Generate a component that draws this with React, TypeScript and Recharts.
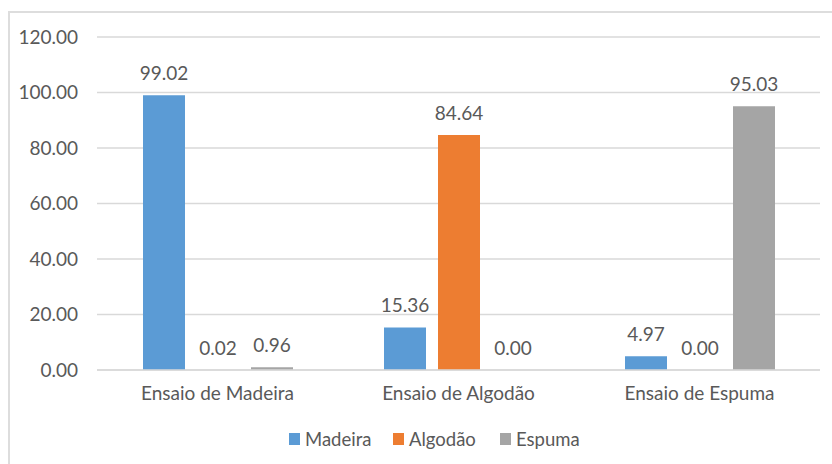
import React from "react";
import { BarChart, Bar, XAxis, YAxis, CartesianGrid, Legend, LabelList } from "recharts";

const categories = ["Ensaio de Madeira", "Ensaio de Algodão", "Ensaio de Espuma"];
const madeira = [99.02, 15.36, 4.97];
const algodao = [0.02, 84.64, 0.0];
const espuma = [0.96, 0.0, 95.03];
const yTicks = [0, 20, 40, 60, 80, 100, 120];

const series = [
  { key: "madeira", name: "Madeira", color: "#5B9BD5" },
  { key: "algodao", name: "Algodão", color: "#ED7D31" },
  { key: "espuma", name: "Espuma", color: "#A5A5A5" },
];

const data = categories.map((c, i) => ({
  category: c,
  madeira: madeira[i],
  algodao: algodao[i],
  espuma: espuma[i],
}));

const FONT = "Lato, sans-serif";
const TEXT = "#595959";

const fmt = (v: any) => Number(v).toFixed(2);

// zero-valued bars still need a rectangle so their value label is drawn
const tinyForZero = (value: any) => (Number(value) === 0 ? 0.01 : 0);

// legend entries laid out in fixed slots
const legendSlotLeft = [289, 393, 500];

const renderLegend = () => (
  <div
    style={{
      position: "relative",
      height: 24,
      fontFamily: FONT,
      fontSize: 18.5,
      color: TEXT,
    }}
  >
    {series.map((s, i) => (
      <div
        key={s.key}
        style={{
          position: "absolute",
          left: legendSlotLeft[i],
          top: 0,
          height: 24,
          display: "flex",
          alignItems: "center",
          whiteSpace: "nowrap",
        }}
      >
        <span style={{ display: "inline-block", width: 11, height: 12, background: s.color, marginRight: 5 }} />
        <span>{s.name}</span>
      </div>
    ))}
  </div>
);

export default function App() {
  return (
    <div style={{ position: "fixed", left: 0, top: 0, width: 832, height: 464, background: "#fff", overflow: "hidden" }}>
      <div
        style={{
          position: "absolute",
          left: 8,
          top: 11,
          width: 840,
          height: 470,
          border: "2px solid #DDDDDD",
          boxSizing: "border-box",
        }}
      />
      <div style={{ position: "absolute", left: 0, top: 0 }}>
        <BarChart
          width={832}
          height={464}
          data={data}
          margin={{ top: 37, right: 12, left: 0, bottom: 0 }}
          barSize={42}
          barGap={12}
        >
          <CartesianGrid vertical={false} stroke="#D9D9D9" strokeWidth={1.5} />
          <XAxis
            dataKey="category"
            axisLine={{ stroke: "#D9D9D9", strokeWidth: 1.5 }}
            tickLine={false}
            tickSize={0}
            tickMargin={17}
            height={70}
            tick={{ fill: TEXT, fontSize: 19, fontFamily: FONT }}
          />
          <YAxis
            domain={[0, 120]}
            ticks={yTicks}
            width={97}
            axisLine={false}
            tickLine={false}
            tickSize={0}
            tickMargin={19}
            tickFormatter={fmt}
            tick={{ fill: TEXT, fontSize: 19, fontFamily: FONT }}
          />
          <Legend verticalAlign="bottom" content={renderLegend} wrapperStyle={{ left: 0, width: 832, bottom: 13 }} />
          {series.map((s) => (
            <Bar
              key={s.key}
              dataKey={s.key}
              name={s.name}
              fill={s.color}
              minPointSize={tinyForZero}
              isAnimationActive={false}
            >
              <LabelList
                dataKey={s.key}
                position="top"
                offset={15}
                formatter={fmt}
                style={{ fill: TEXT, fontSize: 19, fontFamily: FONT }}
              />
            </Bar>
          ))}
        </BarChart>
      </div>
    </div>
  );
}
